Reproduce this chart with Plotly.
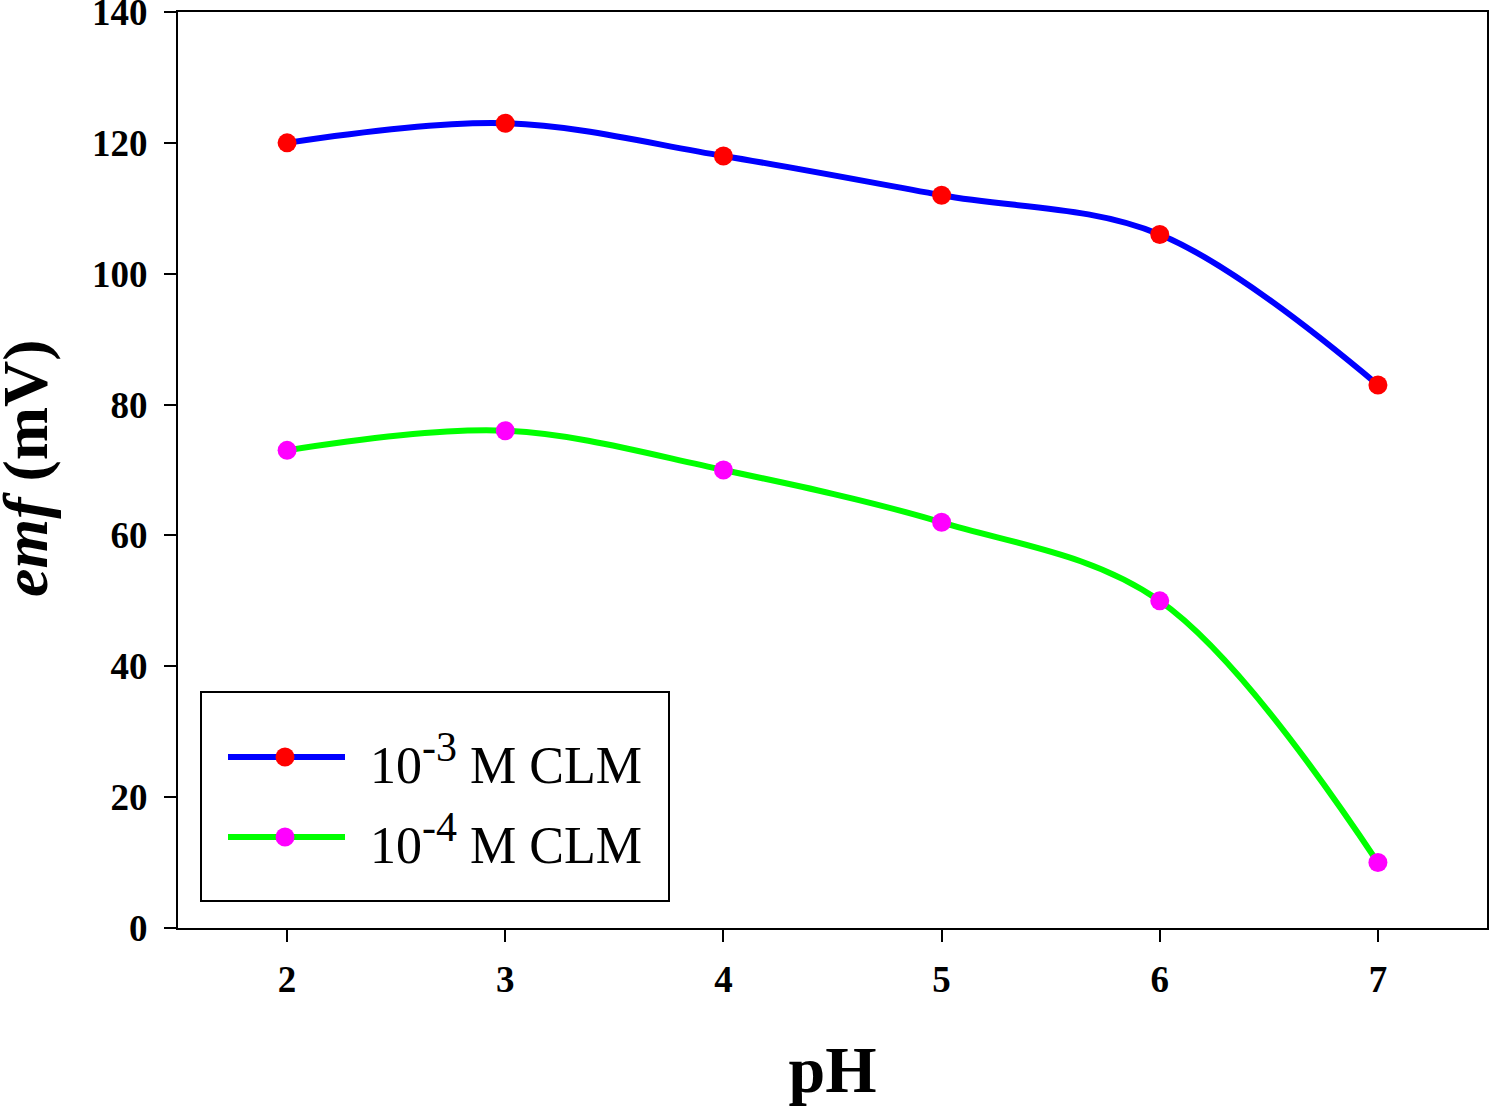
import plotly.graph_objects as go

ph = [2, 3, 4, 5, 6, 7]
emf_1e3 = [120, 123, 118, 112, 106, 83]
emf_1e4 = [73, 76, 70, 62, 50, 10]
series_names = ["10<sup><span style='font-size:42px'>-3</span></sup> M CLM",
                "10<sup><span style='font-size:42px'>-4</span></sup> M CLM"]
y_ticks = [0, 20, 40, 60, 80, 100, 120, 140]
x_ticks = [2, 3, 4, 5, 6, 7]
x_title = "pH"
y_title = "<i>emf</i> (mV)"

W, H = 1489, 1106
L, R, T, B = 178, 2, 12, 178
PW, PH = W - L - R, H - T - B

def px(x):
    return (x - L) / PW

def py(y):
    return (H - B - y) / PH

FONT = "Liberation Serif, Times New Roman, serif"

fig = go.Figure()
fig.add_trace(go.Scatter(x=ph, y=emf_1e3, mode="lines+markers", name=series_names[0],
                         line=dict(color="#0000ff", width=6, shape="spline", smoothing=1.0),
                         marker=dict(color="#ff0000", size=19)))
fig.add_trace(go.Scatter(x=ph, y=emf_1e4, mode="lines+markers", name=series_names[1],
                         line=dict(color="#00ff00", width=6, shape="spline", smoothing=1.0),
                         marker=dict(color="#ff00ff", size=19)))

axis_common = dict(showgrid=False, zeroline=False, showline=True, linecolor="black",
                   linewidth=2, mirror=True, ticks="outside", ticklen=12, tickwidth=2,
                   tickcolor="black", ticklabeloverflow="allow",
                   tickfont=dict(family=FONT, size=37, color="black", weight="bold"))

fig.update_xaxes(range=[1.5, 7.5], tickvals=x_ticks, ticklabelstandoff=6,
                 title=dict(text=x_title, font=dict(family=FONT, size=66, color="black", weight="bold"),
                            standoff=46),
                 **axis_common)
fig.update_yaxes(range=[0, 140], tickvals=y_ticks, ticklabelstandoff=9,
                 **axis_common)

shapes = []
annotations = [dict(xref="paper", yref="paper", x=px(25), y=py(468), xanchor="center",
                    yanchor="middle", textangle=-90, showarrow=False, text=y_title,
                    font=dict(family=FONT, size=64, color="black", weight="bold"))]
# legend box
shapes.append(dict(type="rect", xref="paper", yref="paper",
                   x0=px(201), x1=px(669), y0=py(901), y1=py(692),
                   line=dict(color="black", width=2), fillcolor="white", layer="above"))
legend_rows = [(757, "#0000ff", "#ff0000"), (837, "#00ff00", "#ff00ff")]
for (yy, lc, mc), name in zip(legend_rows, series_names):
    shapes.append(dict(type="line", xref="paper", yref="paper",
                       x0=px(228), x1=px(345), y0=py(yy), y1=py(yy),
                       line=dict(color=lc, width=6), layer="above"))
    shapes.append(dict(type="circle", xref="paper", yref="paper",
                       x0=px(285 - 9.5), x1=px(285 + 9.5), y0=py(yy + 9.5), y1=py(yy - 9.5),
                       line=dict(color=mc, width=0), fillcolor=mc, layer="above"))
    annotations.append(dict(xref="paper", yref="paper", x=px(368), y=py(yy + 2),
                            xanchor="left", yanchor="middle", showarrow=False, text=name,
                            font=dict(family=FONT, size=52, color="black")))

fig.update_layout(width=W, height=H, margin=dict(l=L, r=R, t=T, b=B, autoexpand=False),
                  paper_bgcolor="white", plot_bgcolor="white", showlegend=False,
                  shapes=shapes, annotations=annotations)

fig.write_html("out.html", config={"displayModeBar": False},
               post_script="document.body.style.margin='0';document.body.style.overflow='hidden';")
